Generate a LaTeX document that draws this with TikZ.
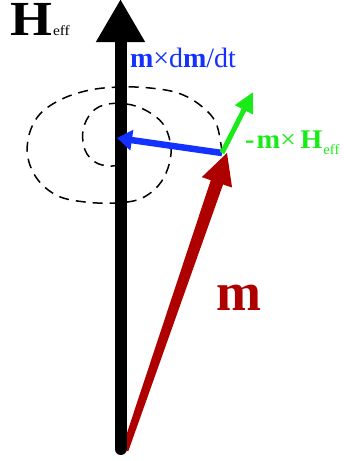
\documentclass[tikz,border=0pt]{standalone}
\usepackage{fontspec}
\setmainfont{Liberation Serif}
\usetikzlibrary{arrows.meta,calc}
\definecolor{mred}{RGB}{175,0,0}
\definecolor{mblue}{RGB}{20,50,255}
\definecolor{mgreen}{RGB}{25,235,25}
\begin{document}
\begin{tikzpicture}[x=1pt,y=-1pt,
  lbl/.style={anchor=base west,inner sep=0pt,outer sep=0pt},
  spiral/.style={dash pattern=on 10pt off 7pt,line width=1.5pt}]
\useasboundingbox (0,0) rectangle (344,461);
% key points
\coordinate (O) at (120.5,449);
\coordinate (Htip) at (120.5,-1);
\coordinate (Rtail) at (125,450);
\coordinate (M) at (227,153);
\coordinate (V) at (222,153);
\coordinate (Btip) at (117,138);
\coordinate (Gtip) at (253,92);
% spiral (damped precession path)
\draw[spiral] plot[smooth,tension=0.6] coordinates {
 (222,152) (216,123) (200,105) (178,93) (150,88) (120,87) (90,90) (62,99)
 (40,114) (29,135) (28,158) (38,180) (58,196) (85,202) (115,203) (140,199)
 (158,186) (168,168) (171,148) (165,127) (152,114) (132,105) (108,104)
 (92,112) (83,130) (85,150) (95,162) (108,166) (119,165)};
% red m vector (tapered)
\coordinate (RB) at ($(M)!31pt!(Rtail)$);
\fill[mred] ($(Rtail)!3.5pt!90:(M)$) -- ($(RB)!6.5pt!-90:(Rtail)$)
  -- ($(RB)!16pt!-90:(Rtail)$) -- (M) -- ($(RB)!16pt!90:(Rtail)$)
  -- ($(RB)!6.5pt!90:(Rtail)$) -- ($(Rtail)!3.5pt!-90:(M)$) -- cycle;
% black H_eff axis
\draw[line width=12pt,line cap=round,-{Triangle[length=43pt,width=46pt]}] (O) -- (Htip);
% blue m x dm/dt
\draw[mblue,line width=6.5pt,-{Triangle[length=15pt,width=20pt]}] (V) -- (Btip);
% green -m x H_eff
\draw[mgreen,line width=5pt,-{Triangle[length=20pt,width=19pt]}] (V) -- (Gtip);
% labels
\node[lbl,xscale=1.1,text height=33pt,text depth=0pt] (lH) at (10,35) {\fontsize{49}{49}\selectfont\textbf{H}\kern1pt\fontsize{14}{14}\selectfont eff};
\node[lbl,text=mblue] (lD) at (130,67) {\fontsize{28}{28}\selectfont\textbf{m}×d\textbf{m}/dt};
\node[lbl,text=mgreen,xscale=1.05] (lG) at (245,148.5) {\fontsize{27}{27}\selectfont\textbf{-}\kern2pt\textbf{m}×\kern4pt\textbf{H}\kern1pt\raisebox{-6pt}{\fontsize{14}{14}\selectfont eff}};
\node[lbl,text=mred] (lM) at (216,310) {\fontsize{54}{54}\selectfont\textbf{m}};
\end{tikzpicture}
\end{document}
